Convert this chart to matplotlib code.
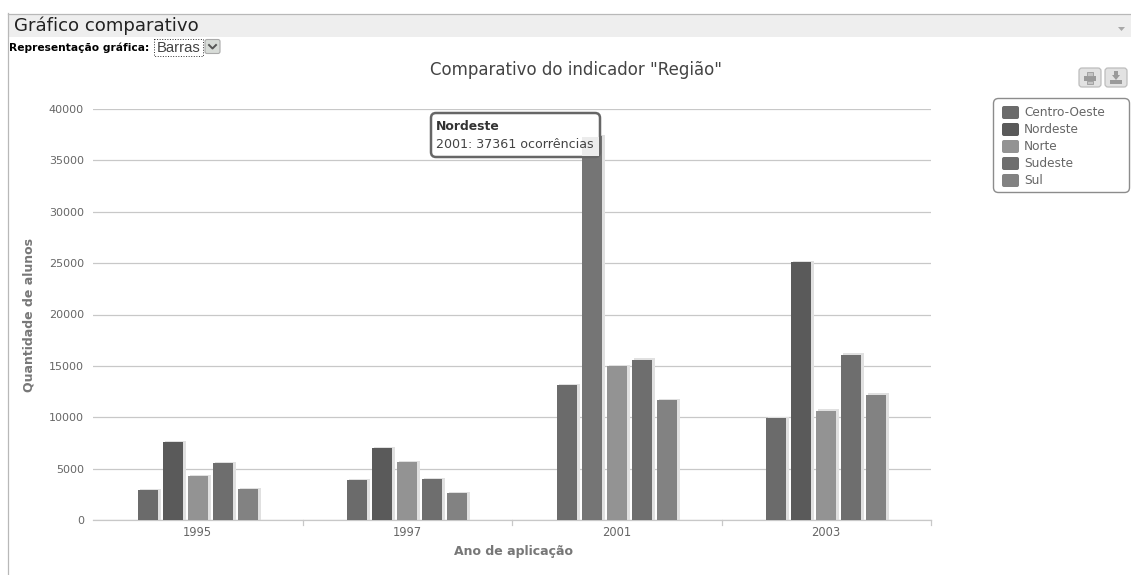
import matplotlib
matplotlib.use("Agg")
import matplotlib.pyplot as plt
from matplotlib.patches import FancyBboxPatch, Rectangle, Polygon

W, H = 1131, 575

years = ["1995", "1997", "2001", "2003"]
regions = ["Centro-Oeste", "Nordeste", "Norte", "Sudeste", "Sul"]
centro_oeste = [2900, 3900, 13100, 9950]
nordeste = [7600, 7000, 37361, 25100]
norte = [4300, 5650, 14950, 10650]
sudeste = [5550, 4000, 15600, 16100]
sul = [3000, 2600, 11700, 12200]
series = [centro_oeste, nordeste, norte, sudeste, sul]
colors = ["#6b6b6b", "#5a5a5a", "#939393", "#6e6e6e", "#828282"]
y_ticks = [0, 5000, 10000, 15000, 20000, 25000, 30000, 35000, 40000]

plt.rcParams["font.family"] = "DejaVu Sans"
fig = plt.figure(figsize=(W / 100, H / 100), dpi=100, facecolor="white")

# Page furniture, positioned in pixel coordinates
page = fig.add_axes([0, 0, 1, 1], zorder=0)
page.set_xlim(0, W)
page.set_ylim(H, 0)
page.axis("off")
page.add_patch(Rectangle((8, 14), W - 8, 23, fc="#eeeeee", ec="none"))
page.plot([8, W], [13.5, 13.5], color="#b8b8b8", lw=0.9)
page.plot([8, 8], [13, H], color="#b8b8b8", lw=0.9)
page.text(14, 26, "Gráfico comparativo", fontsize=13.1, color="#222222", va="center")
page.add_patch(Polygon([[1118, 27], [1125, 27], [1121.5, 31]], fc="#a8a8a8", ec="none"))
page.text(9, 47.5, "Representação gráfica:", fontsize=7.7, fontweight="bold", color="black", va="center")
page.add_patch(Rectangle((153.5, 38.5), 49, 17, fc="white", ec="#333333", lw=0.7, ls=":"))
page.text(157, 47.5, "Barras", fontsize=10.6, color="#444444", va="center", family="Liberation Sans")
page.add_patch(FancyBboxPatch((205, 39.5), 15, 14, boxstyle="round,pad=0,rounding_size=2",
                              fc="#d8dcd8", ec="#aaaaaa", lw=0.8))
page.plot([209, 212.5, 216], [45, 48.5, 45], color="#555555", lw=1.4)
page.text(576.5, 70, 'Comparativo do indicador "Região"', fontsize=12, color="#444444",
          ha="center", va="center")

# Export buttons
for bx in (1079, 1105):
    page.add_patch(FancyBboxPatch((bx, 68), 22, 19, boxstyle="round,pad=0,rounding_size=3",
                                  fc="#e2e2e2", ec="#bdbdbd", lw=0.9))
page.add_patch(Rectangle((1084, 76), 12, 5, fc="#9a9a9a", ec="none"))
page.add_patch(Rectangle((1087, 72), 6, 4, fc="#c4c4c4", ec="#9a9a9a", lw=0.6))
page.add_patch(Rectangle((1087, 81), 6, 3, fc="#c4c4c4", ec="#9a9a9a", lw=0.6))
page.add_patch(Polygon([[1114, 71], [1118, 71], [1118, 75], [1120, 75], [1116, 80], [1112, 75], [1114, 75]],
                       fc="#9a9a9a", ec="none"))
page.add_patch(Rectangle((1110, 80), 12, 3.5, fc="#9a9a9a", ec="none"))

# Chart area: y = 0 sits on pixel 520, y = 40000 on pixel 109
ax_left, ax_right, ax_top, ax_bottom = 93, 931, 109, 520
ax = fig.add_axes([ax_left / W, 1 - ax_bottom / H, (ax_right - ax_left) / W, (ax_bottom - ax_top) / H],
                  zorder=1)
ax.patch.set_alpha(0)
ax.set_xlim(-0.5, 3.5)
ax.set_ylim(0, 40000)
for side in ("top", "right", "left"):
    ax.spines[side].set_visible(False)
ax.spines["bottom"].set_color("#c8c8c8")
ax.spines["bottom"].set_linewidth(0.9)
ax.set_axisbelow(True)
ax.yaxis.grid(True, color="#c8c8c8", lw=0.9)
ax.xaxis.grid(False)
ax.set_yticks(y_ticks)
ax.set_yticklabels([str(v) for v in y_ticks], fontsize=8, color="#666666")
ax.tick_params(axis="y", length=0, pad=6.5)
ax.set_xticks(range(len(years)))
ax.set_xticklabels(years, fontsize=8.3, color="#666666")
ax.tick_params(axis="x", length=0, pad=4)
for boundary in (0.5, 1.5, 2.5, 3.5):
    ax.plot([boundary, boundary], [0, -500], color="#c8c8c8", lw=0.9, clip_on=False)

step = 25 / 209.5
bar_w = 20 / 209.5
shadow_dx = 2.5 / 209.5
for i, (values, color) in enumerate(zip(series, colors)):
    xs = [k + (i - 2) * step for k in range(len(years))]
    ax.bar([x + shadow_dx for x in xs], [v + 120 for v in values], width=bar_w + 1 / 209.5,
           color="#e0e0e0", zorder=2)
    bars = ax.bar(xs, values, width=bar_w, color=color, zorder=3)
    if i == 1:
        bars[2].set_facecolor("#757575")  # hovered column

page_top = fig.add_axes([0, 0, 1, 1], zorder=2)
page_top.set_xlim(0, W)
page_top.set_ylim(H, 0)
page_top.axis("off")
page_top.patch.set_alpha(0)

page_top.text(29, 315, "Quantidade de alunos", rotation=90, fontsize=9, fontweight="bold",
              color="#777777", ha="center", va="center")
page_top.text(513, 552, "Ano de aplicação", fontsize=9, fontweight="bold", color="#777777",
              ha="center", va="center")

# Legend box
page_top.add_patch(FancyBboxPatch((993.5, 98.5), 136, 94, boxstyle="round,pad=0,rounding_size=5",
                                  fc="white", ec="#8c8c8c", lw=1))
for i, (name, color) in enumerate(zip(regions, colors)):
    y = 112.5 + i * 17
    page_top.add_patch(FancyBboxPatch((1002, y - 6.5), 17, 13, boxstyle="round,pad=0,rounding_size=2",
                                      fc=color, ec="none"))
    page_top.text(1024, y, name, fontsize=8.7, color="#666666", va="center")

# Tooltip over the hovered column
page_top.add_patch(FancyBboxPatch((431, 113), 169, 44, boxstyle="round,pad=0,rounding_size=5",
                                  fc="white", ec="#666666", lw=1.8))
page_top.add_patch(Rectangle((582, 137), 17, 19, fc="#ececec", ec="none"))
page_top.text(436, 127, "Nordeste", fontsize=8.9, fontweight="bold", color="#333333", va="center")
page_top.text(436, 144, f"{years[2]}: {nordeste[2]} ocorrências", fontsize=9.1, color="#444444", va="center")

fig.savefig("out.png", dpi=100)
